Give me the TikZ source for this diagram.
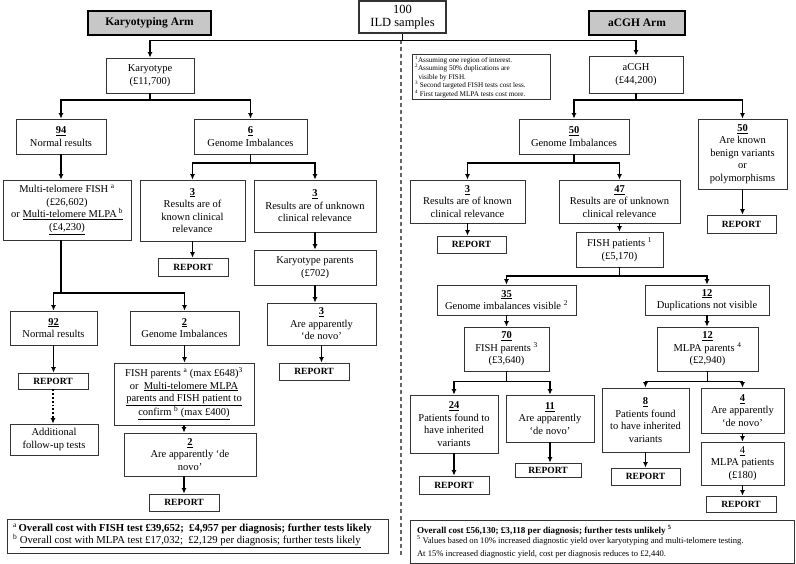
\documentclass[tikz,border=0pt]{standalone}
\usepackage{fontspec}
\setmainfont{Liberation Serif}
\usetikzlibrary{arrows.meta}
\newcommand\mybox[7]{\node[#1,minimum width={(#4-#3)*1pt},minimum height={(#6-#5)*1pt}] (#2) at ({(#3+#4)/2},{(#5+#6)/2}) {#7};}
\newcommand\num[1]{\underline{\textbf{#1}}}
\tikzset{
 bx/.style={draw=black!80, line width=0.8pt, align=center, font=\fontsize{10.5}{12.5}\selectfont, inner sep=1pt},
 rep/.style={bx, font=\fontsize{9.5}{11}\selectfont\bfseries},
 hdr/.style={draw=black, line width=1.4pt, fill=black!22, font=\fontsize{11.5}{13}\selectfont\bfseries},
 arr/.style={line width=1.8pt, -{Latex[length=5.5pt,width=5pt]}},
 dotarr/.style={line width=1.8pt, dotted, -{Latex[length=5.5pt,width=5pt]}},
 divider/.style={line width=1.2pt, draw=black!60, dash pattern=on 4pt off 3pt},
}
\begin{document}
\begin{tikzpicture}[x=1pt,y=-1pt]
\useasboundingbox (0,0) rectangle (796,564);
% top
\mybox{bx,font=\fontsize{12.5}{13.5}\selectfont,line width=1.2pt}{top}{359}{446}{1}{33}{100\\ILD samples}
\mybox{hdr}{hdrL}{88}{211}{11}{35}{Karyotyping Arm}
\mybox{hdr}{hdrR}{589}{685}{11}{35}{aCGH Arm}
% left arm
\mybox{bx}{kary}{106}{194}{58}{93}{Karyotype\\(£11,700)}
\mybox{bx}{n94}{16}{106}{119}{154}{\num{94}\\Normal results}
\mybox{bx}{n6}{194}{307}{119}{154}{\num{6}\\Genome Imbalances}
\mybox{bx}{mt}{3}{131}{180}{240}{Multi-telomere FISH \textsuperscript{a}\\(£26,602)\\or \underline{Multi-telomere MLPA\,\textsuperscript{b}}\\\underline{(£4,230)}}
\mybox{bx}{kknown}{140}{245}{180}{241}{\num{3}\\Results are of\\known clinical\\relevance}
\mybox{bx}{kunk}{254}{376}{180}{232}{\num{3}\\Results are of unknown\\clinical relevance}
\mybox{rep}{repkk}{158}{228}{258}{276}{REPORT}
\mybox{bx}{kpar}{254}{376}{250}{285}{Karyotype parents\\(£702)}
\mybox{bx}{n92}{10}{97}{311}{345}{\num{92}\\Normal results}
\mybox{bx}{n2}{130}{239}{311}{345}{\num{2}\\Genome Imbalances}
\mybox{bx}{kdn}{267}{376}{303}{345}{\num{3}\\Are apparently\\‘de novo’}
\mybox{rep}{repkdn}{279}{349}{363}{380}{REPORT}
\mybox{rep}{rep92}{18}{88}{373}{389}{REPORT}
\mybox{bx}{addl}{10}{98}{424}{455}{Additional\\follow-up tests}
\mybox{bx}{fpar}{114}{254}{363}{425}{FISH parents \textsuperscript{a} (max £648)\textsuperscript{3}\\or \ \underline{Multi-telomere MLPA}\\\underline{parents and FISH patient to}\\\underline{confirm \textsuperscript{b} (max £400)}}
\mybox{bx}{n2dn}{124}{256}{433}{476}{\num{2}\\Are apparently ‘de\\novo’}
\mybox{rep}{rep2}{149}{219}{494}{511}{REPORT}
\mybox{bx,align=flush left,inner xsep=6pt,line width=1pt,text width=369pt}{costL}{7}{388}{519}{553}{\fontsize{10.7}{12.5}\selectfont\textsuperscript{a}\,\textbf{Overall cost with FISH test £39,652; \ £4,957 per diagnosis; further tests likely}\\\fontsize{10.7}{12.5}\selectfont\textsuperscript{b} \underline{Overall cost with MLPA test £17,032; \ £2,129 per diagnosis; further tests likely}}
% right arm
\mybox{bx}{acgh}{589}{683}{56}{93}{aCGH\\(£44,200)}
\mybox{bx,align=flush left,font=\fontsize{7.2}{8.6}\selectfont,inner xsep=3pt,text width=132pt}{foot}{412}{550}{55}{99}{\textsuperscript{1}Assuming one region of interest.\\\textsuperscript{2}Assuming 50\% duplications are\\\ \ visible by FISH.\\\textsuperscript{3} Second targeted FISH tests cost less.\\\textsuperscript{4} First targeted MLPA tests cost more.}
\mybox{bx}{r50}{519}{629}{119}{154}{\num{50}\\Genome Imbalances}
\mybox{bx}{ben}{698}{787}{119}{189}{\num{50}\\Are known\\benign variants\\or\\polymorphisms}
\mybox{rep}{repben}{707}{776}{215}{233}{REPORT}
\mybox{bx}{r3}{410}{525}{180}{223}{\num{3}\\Results are of known\\clinical relevance}
\mybox{bx}{r47}{559}{680}{180}{223}{\num{47}\\Results are of unknown\\clinical relevance}
\mybox{rep}{repr3}{437}{506}{236}{253}{REPORT}
\mybox{bx}{fpat}{576}{663}{232}{267}{FISH patients \textsuperscript{1}\\(£5,170)}
\mybox{bx}{r35}{437}{576}{285}{315}{\num{35}\\Genome imbalances visible \textsuperscript{2}}
\mybox{bx}{r12}{645}{769}{285}{315}{\num{12}\\Duplications not visible}
\mybox{bx}{r70}{464}{549}{327}{371}{\num{70}\\FISH parents \textsuperscript{3}\\(£3,640)}
\mybox{bx}{r12m}{657}{758}{327}{371}{\num{12}\\MLPA parents \textsuperscript{4}\\(£2,940)}
\mybox{bx}{r24}{410}{498}{395}{453}{\num{24}\\Patients found to\\have inherited\\variants}
\mybox{bx}{r11}{506}{594}{395}{442}{\num{11}\\Are apparently\\‘de novo’}
\mybox{bx}{r8}{602}{689}{388}{452}{\num{8}\\Patients found\\to have inherited\\variants}
\mybox{bx}{r4}{701}{784}{388}{433}{\num{4}\\Are apparently\\‘de novo’}
\mybox{bx}{r4m}{701}{784}{442}{485}{\underline{4}\\MLPA patients\\(£180)}
\mybox{rep}{repr24}{419}{489}{476}{494}{REPORT}
\mybox{rep}{repr11}{515}{581}{463}{477}{REPORT}
\mybox{rep}{repr8}{611}{680}{468}{485}{REPORT}
\mybox{rep}{repr4m}{706}{776}{496}{512}{REPORT}
\mybox{bx,align=flush left,inner xsep=7pt,line width=1pt,text width=370pt}{costR}{410}{794}{520}{563}{\textbf{\fontsize{9.1}{12}\selectfont Overall cost £56,130; £3,118 per diagnosis; further tests unlikely \textsuperscript{5}}\\\fontsize{8.6}{10.5}\selectfont\textsuperscript{5} Values based on 10\% increased diagnostic yield over karyotyping and multi-telomere testing.\\\fontsize{8.6}{10.5}\selectfont At 15\% increased diagnostic yield, cost per diagnosis reduces to £2,440.}
% connectors
\coordinate (divtop) at (401,40);
\coordinate (divbot) at (401,556);
\draw[divider] (divtop) -- (divbot);
\draw[arr] (top.south) -- ++(0,7) -| (kary.north);
\draw[arr] (top.south) -- ++(0,7) -| (acgh.north);
\draw[arr] (kary.south) -- ++(0,7) -| (n94.north);
\draw[arr] (kary.south) -- ++(0,7) -| (n6.north);
\draw[arr] (n94.south) -- (n94.south |- mt.north);
\draw[arr] (n6.south) -- ++(0,9) -| (kknown.north);
\draw[arr] (n6.south) -- ++(0,9) -| (kunk.north);
\draw[arr] (kknown.south) -- (kknown.south |- repkk.north);
\draw[arr] (kunk.south) -- (kunk.south |- kpar.north);
\draw[arr] (kpar.south) -- (kpar.south |- kdn.north);
\draw[arr] (kdn.south) -- (kdn.south |- repkdn.north);
\draw[arr] (n94.south |- mt.south) -- ++(0,53) -| (n92.north);
\draw[arr] (n94.south |- mt.south) -- ++(0,53) -| (n2.north);
\draw[arr] (n92.south) -- (n92.south |- rep92.north);
\draw[dotarr] (rep92.south) -- (rep92.south |- addl.north);
\draw[arr] (n2.south) -- (n2.south |- fpar.north);
\draw[arr] (fpar.south) -- (fpar.south |- n2dn.north);
\draw[arr] (fpar.south |- n2dn.south) -- (fpar.south |- rep2.north);
\draw[arr] (acgh.south) -- ++(0,7) -| (r50.north);
\draw[arr] (acgh.south) -- ++(0,7) -| (ben.north);
\draw[arr] (ben.south) -- (ben.south |- repben.north);
\draw[arr] (r50.south) -- ++(0,9) -| (r3.north);
\draw[arr] (r50.south) -- ++(0,9) -| (r47.north);
\draw[arr] (r3.south) -- (r3.south |- repr3.north);
\draw[arr] (r47.south) -- (r47.south |- fpat.north);
\draw[arr] (fpat.south) -- ++(0,9) -| (r35.north);
\draw[arr] (fpat.south) -- ++(0,9) -| (r12.north);
\draw[arr] (r35.south) -- (r35.south |- r70.north);
\draw[arr] (r12.south) -- (r12.south |- r12m.north);
\draw[arr] (r70.south) -- ++(0,10) -| (r24.north);
\draw[arr] (r70.south) -- ++(0,10) -| (r11.north);
\draw[arr] (r12m.south) -- ++(0,10) -| (r8.north);
\draw[arr] (r12m.south) -- ++(0,10) -| (r4.north);
\draw[arr] (r24.south) -- (r24.south |- repr24.north);
\draw[arr] (r11.south) -- (r11.south |- repr11.north);
\draw[arr] (r8.south) -- (r8.south |- repr8.north);
\draw[arr] (r4.south) -- (r4.south |- r4m.north);
\draw[arr] (r4m.south) -- (r4m.south |- repr4m.north);
\end{tikzpicture}
\end{document}
